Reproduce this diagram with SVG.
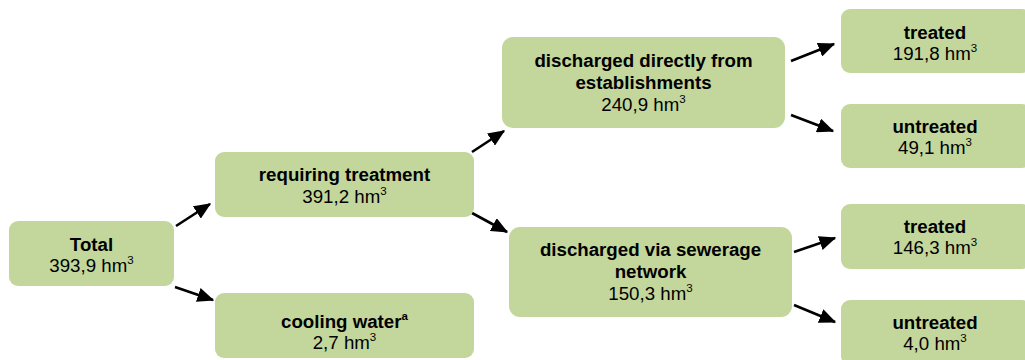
<svg xmlns="http://www.w3.org/2000/svg" width="1025" height="360" viewBox="0 0 1025 360">
<defs>
<marker id="ah" markerWidth="6.5" markerHeight="5.6" refX="6" refY="2.8" orient="auto" markerUnits="strokeWidth">
<path d="M0,0 L6.5,2.8 L0,5.6 Z" fill="#000"/>
</marker>
<style>
.box{fill:#c3d69b;}
.t{font-family:"Liberation Sans",Arial,sans-serif;font-size:18.7px;text-anchor:middle;fill:#000;}
.b{font-weight:bold;}
.sup{font-size:11.5px;}
.c{stroke:#000;stroke-width:2.6;fill:none;marker-end:url(#ah);}
</style>
</defs>
<rect width="1025" height="360" fill="#fff"/>
<g id="connectors">
<line class="c" x1="176" y1="226" x2="210" y2="204"/>
<line class="c" x1="175" y1="287" x2="213" y2="300"/>
<line class="c" x1="472" y1="152" x2="504" y2="131"/>
<line class="c" x1="472" y1="213" x2="507" y2="232"/>
<line class="c" x1="791" y1="61" x2="834" y2="44"/>
<line class="c" x1="791" y1="115" x2="833" y2="131"/>
<line class="c" x1="794" y1="252" x2="835" y2="238"/>
<line class="c" x1="794" y1="305" x2="835" y2="322"/>
</g>
<g id="total">
<rect class="box" x="9" y="221" width="165" height="65" rx="9"/>
<text class="t b" x="91.5" y="250.5">Total</text>
<text class="t" x="91.5" y="272">393,9 hm<tspan class="sup" dy="-8">3</tspan></text>
</g>
<g id="requiring">
<rect class="box" x="215" y="152" width="259" height="65" rx="9"/>
<text class="t b" x="344.5" y="180.5">requiring treatment</text>
<text class="t" x="344.5" y="202.5">391,2 hm<tspan class="sup" dy="-8">3</tspan></text>
</g>
<g id="cooling">
<rect class="box" x="215" y="293" width="259" height="65" rx="9"/>
<text class="t b" x="344.5" y="328">cooling water<tspan class="sup" dy="-8">a</tspan></text>
<text class="t" x="344.5" y="349">2,7 hm<tspan class="sup" dy="-8">3</tspan></text>
</g>
<g id="direct">
<rect class="box" x="502" y="37" width="283" height="91" rx="11"/>
<text class="t b" x="643.5" y="66.5">discharged directly from</text>
<text class="t b" x="643.5" y="88.5">establishments</text>
<text class="t" x="643.5" y="110.5">240,9 hm<tspan class="sup" dy="-8">3</tspan></text>
</g>
<g id="sewer">
<rect class="box" x="509" y="227" width="283" height="90" rx="11"/>
<text class="t b" x="650.5" y="256">discharged via sewerage</text>
<text class="t b" x="650.5" y="278">network</text>
<text class="t" x="650.5" y="300">150,3 hm<tspan class="sup" dy="-8">3</tspan></text>
</g>
<g id="treated1">
<rect class="box" x="841" y="9" width="190" height="64" rx="9"/>
<text class="t b" x="935" y="38.5">treated</text>
<text class="t" x="935" y="60">191,8 hm<tspan class="sup" dy="-8">3</tspan></text>
</g>
<g id="untreated1">
<rect class="box" x="841" y="104" width="190" height="64" rx="9"/>
<text class="t b" x="935" y="132.5">untreated</text>
<text class="t" x="935" y="154">49,1 hm<tspan class="sup" dy="-8">3</tspan></text>
</g>
<g id="treated2">
<rect class="box" x="841" y="204" width="190" height="65" rx="9"/>
<text class="t b" x="935" y="232.5">treated</text>
<text class="t" x="935" y="254">146,3 hm<tspan class="sup" dy="-8">3</tspan></text>
</g>
<g id="untreated2">
<rect class="box" x="841" y="300" width="190" height="65" rx="9"/>
<text class="t b" x="935" y="328.5">untreated</text>
<text class="t" x="935" y="349.5">4,0 hm<tspan class="sup" dy="-8">3</tspan></text>
</g>
</svg>
